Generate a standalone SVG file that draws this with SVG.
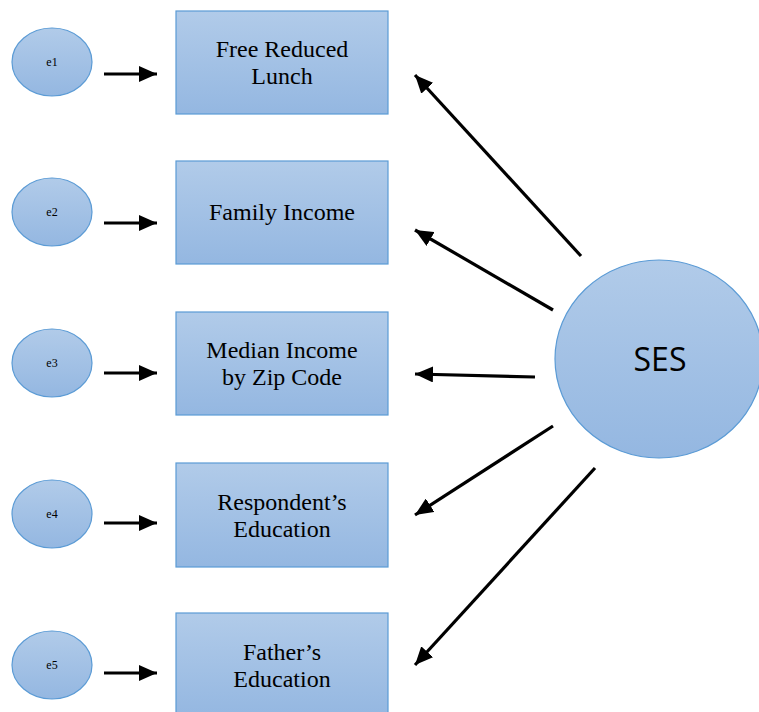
<svg xmlns="http://www.w3.org/2000/svg" width="759" height="712" viewBox="0 0 759 712">
<defs>
<linearGradient id="g" x1="0" y1="0" x2="0" y2="1">
<stop offset="0" stop-color="#b1cbe9"/>
<stop offset="1" stop-color="#94b7e1"/>
</linearGradient>
<marker id="ah" markerUnits="userSpaceOnUse" markerWidth="20" markerHeight="16" refX="18" refY="8" orient="auto">
<path d="M0,0 L18,8 L0,16 Z" fill="#000"/>
</marker>
<style>
.shape{fill:url(#g);stroke:#5b9bd5;stroke-width:1.2}
.lbl{font-family:"Liberation Serif","Times New Roman",serif;font-size:24px;fill:#000;text-anchor:middle}
.sm{font-family:"Liberation Serif","Times New Roman",serif;font-size:12px;fill:#000;text-anchor:middle}
.ses{font-family:"Open Sans","Liberation Sans",sans-serif;font-size:32px;fill:#000;text-anchor:middle}
.c{stroke:#000;stroke-width:3.2;fill:none;marker-end:url(#ah)}
</style>
</defs>
<rect width="759" height="712" fill="#fff"/>
<g id="e1"><ellipse class="shape" cx="52" cy="62" rx="40" ry="34"/><text class="sm" x="52" y="66">e1</text></g>
<g id="e2"><ellipse class="shape" cx="52" cy="212" rx="40" ry="34"/><text class="sm" x="52" y="216">e2</text></g>
<g id="e3"><ellipse class="shape" cx="52" cy="363" rx="40" ry="34"/><text class="sm" x="52" y="367">e3</text></g>
<g id="e4"><ellipse class="shape" cx="52" cy="514" rx="40" ry="34"/><text class="sm" x="52" y="518">e4</text></g>
<g id="e5"><ellipse class="shape" cx="52" cy="665" rx="40" ry="34"/><text class="sm" x="52" y="669">e5</text></g>
<g id="n1"><rect class="shape" x="176" y="11" width="212" height="103"/><text class="lbl" x="282" y="57">Free Reduced</text><text class="lbl" x="282" y="84">Lunch</text></g>
<g id="n2"><rect class="shape" x="176" y="161" width="212" height="103"/><text class="lbl" x="282" y="220">Family Income</text></g>
<g id="n3"><rect class="shape" x="176" y="312" width="212" height="103"/><text class="lbl" x="282" y="358">Median Income</text><text class="lbl" x="282" y="385">by Zip Code</text></g>
<g id="n4"><rect class="shape" x="176" y="463" width="212" height="104"/><text class="lbl" x="282" y="510">Respondent’s</text><text class="lbl" x="282" y="537">Education</text></g>
<g id="n5"><rect class="shape" x="176" y="613" width="212" height="104"/><text class="lbl" x="282" y="660">Father’s</text><text class="lbl" x="282" y="687">Education</text></g>
<g id="ses"><ellipse class="shape" cx="659" cy="359" rx="104" ry="99"/><text class="ses" x="660" y="371">SES</text></g>
<g id="connectors">
<line class="c" x1="104" y1="74" x2="157" y2="74"/>
<line class="c" x1="104" y1="223" x2="157" y2="223"/>
<line class="c" x1="104" y1="373" x2="157" y2="373"/>
<line class="c" x1="104" y1="523" x2="157" y2="523"/>
<line class="c" x1="104" y1="673" x2="157" y2="673"/>
<line class="c" x1="581" y1="256" x2="415" y2="75"/>
<line class="c" x1="553" y1="310" x2="415" y2="230"/>
<line class="c" x1="535" y1="377" x2="415" y2="374"/>
<line class="c" x1="553" y1="426" x2="415" y2="515"/>
<line class="c" x1="595" y1="468" x2="415" y2="665"/>
</g>
</svg>
